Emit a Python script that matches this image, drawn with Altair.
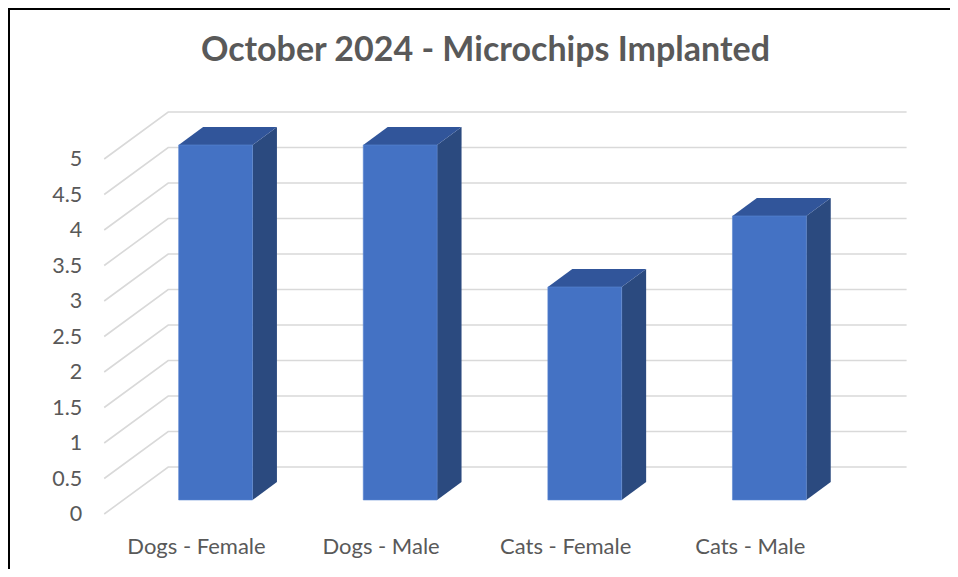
import altair as alt
import pandas as pd

# ---- data ----
categories = ["Dogs - Female", "Dogs - Male", "Cats - Female", "Cats - Male"]
values = [5, 5, 3, 4]
y_ticks = [0, 0.5, 1, 1.5, 2, 2.5, 3, 3.5, 4, 4.5, 5]
y_tick_labels = ["0", "0.5", "1", "1.5", "2", "2.5", "3", "3.5", "4", "4.5", "5"]
title_text = "October 2024 - Microchips Implanted"

# ---- 3D geometry (in data units) ----
DXU = 0.3467   # full depth shift in x (category units)
DYU = 0.662    # full depth shift in y (value units)
F1, F2 = 0.298, 0.68   # bar front / back depth fractions
HALF = 0.2             # half bar width
a1, a2 = F1 * DXU, F2 * DXU
b1, b2 = F1 * DYU, F2 * DYU

W, H = 942, 561
XDOM = [-1.02113, 4.08180]
YDOM = [-0.7746, 7.1268]
xs = alt.Scale(domain=XDOM, nice=False, zero=False)
ys = alt.Scale(domain=YDOM, nice=False, zero=False)

# gridlines
grid_rows = []
for t in y_ticks:
    grid_rows.append(dict(t=t, o=0, x=-0.5, y=t))
    grid_rows.append(dict(t=t, o=1, x=-0.5 + DXU, y=t + DYU))
    grid_rows.append(dict(t=t, o=2, x=3.5 + DXU, y=t + DYU))
grid_df = pd.DataFrame(grid_rows)

front_rows, side_rows, top_rows = [], [], []
for i, (c, v) in enumerate(zip(categories, values)):
    front_rows.append(dict(c=c, x=i - HALF + a1, x2=i + HALF + a1, y=b1, y2=v + b1))
    side_rows.append(dict(c=c, x=i + HALF + a1, y=b1, y2=v + b1))
    side_rows.append(dict(c=c, x=i + HALF + a2, y=b2, y2=v + b2))
    top_rows.append(dict(c=c, y=v + b1, x=i - HALF + a1, x2=i + HALF + a1))
    top_rows.append(dict(c=c, y=v + b2, x=i - HALF + a2, x2=i + HALF + a2))
front_df = pd.DataFrame(front_rows)
side_df = pd.DataFrame(side_rows)
top_df = pd.DataFrame(top_rows)

ylab_df = pd.DataFrame(dict(x=[-0.5] * len(y_ticks), y=y_ticks, label=y_tick_labels))
xlab_df = pd.DataFrame(dict(x=list(range(len(categories))), y=[0] * len(categories), label=categories))

FONT = "Lato"
TXT = "#595959"

grid = alt.Chart(grid_df).mark_line(color="#D9D9D9", strokeWidth=1.6).encode(
    x=alt.X("x:Q", scale=xs, axis=None),
    y=alt.Y("y:Q", scale=ys, axis=None),
    detail="t:N",
    order="o:Q",
)

side = alt.Chart(side_df).mark_area(color="#2B4A7F", opacity=1).encode(
    x=alt.X("x:Q", scale=xs, axis=None),
    y=alt.Y("y:Q", scale=ys, axis=None, stack=None),
    y2="y2:Q",
    detail="c:N",
)

top = alt.Chart(top_df).mark_area(orient="horizontal", color="#31559A", opacity=1).encode(
    y=alt.Y("y:Q", scale=ys, axis=None),
    x=alt.X("x:Q", scale=xs, axis=None, stack=None),
    x2="x2:Q",
    detail="c:N",
)

front = alt.Chart(front_df).mark_rect(color="#4472C4", stroke="#5A86D2", strokeWidth=0.6).encode(
    x=alt.X("x:Q", scale=xs, axis=None),
    x2="x2:Q",
    y=alt.Y("y:Q", scale=ys, axis=None),
    y2="y2:Q",
)

ylabels = alt.Chart(ylab_df).mark_text(
    align="right", baseline="middle", dx=-22, dy=1, font=FONT, fontSize=21.5, color=TXT
).encode(
    x=alt.X("x:Q", scale=xs, axis=None),
    y=alt.Y("y:Q", scale=ys, axis=None),
    text="label:N",
)

xlabels = alt.Chart(xlab_df).mark_text(
    align="center", baseline="middle", dy=33, font=FONT, fontSize=22, color=TXT
).encode(
    x=alt.X("x:Q", scale=xs, axis=None),
    y=alt.Y("y:Q", scale=ys, axis=None),
    text="label:N",
)

title = alt.Chart().mark_text(
    text=title_text, align="center", baseline="alphabetic", dx=12,
    font=FONT, fontSize=34, fontWeight="bold", color=TXT,
).encode(x=alt.datum(1.5, scale=xs), y=alt.value(53))

border_left = alt.Chart().mark_rule(color="black", strokeWidth=2).encode(
    x=alt.value(1), y=alt.value(0), y2=alt.value(H)
)
border_top = alt.Chart().mark_rule(color="black", strokeWidth=2).encode(
    y=alt.value(1), x=alt.value(0), x2=alt.value(W)
)

chart = alt.layer(
    grid, side, top, front, ylabels, xlabels, title, border_left, border_top
).properties(
    width=W,
    height=H,
    autosize=alt.AutoSizeParams(type="none"),
    padding=0,
).configure_view(stroke=None).configure(background="white")

chart.save("out.html", embed_options={"renderer": "svg", "actions": False})
